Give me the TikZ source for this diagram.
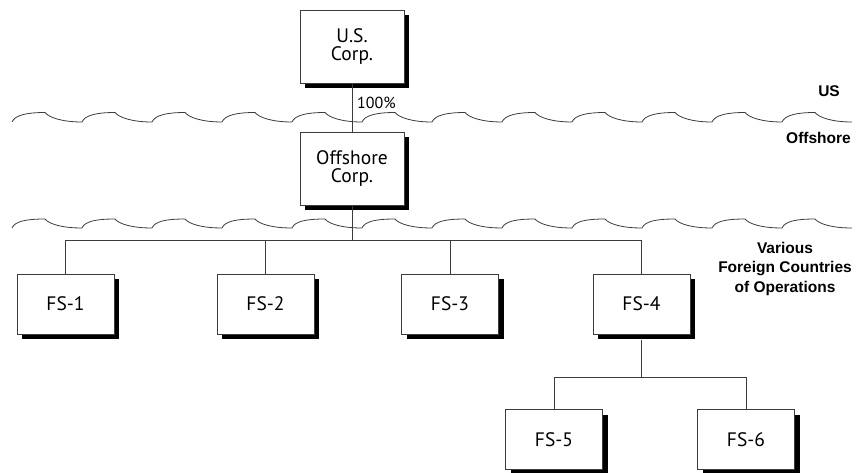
\documentclass[tikz,border=0pt]{standalone}
\usepackage{fontspec}
\setmainfont{PT Sans}
\newfontfamily\lblfont{Liberation Sans}
\usetikzlibrary{shadows}
\definecolor{linegray}{RGB}{60,60,60}
\tikzset{
  orgbox/.style={draw=linegray, fill=white, line width=1pt, inner sep=0pt,
    align=center, font=\fontsize{19.5}{18.5}\selectfont,
    drop shadow={shadow xshift=5pt, shadow yshift=-5pt, fill=black, opacity=1}},
  bigbox/.style={orgbox, minimum width=104pt, minimum height=73pt},
  fsbox/.style={orgbox, minimum width=97pt, minimum height=60pt},
  conn/.style={draw=linegray, line width=1pt},
  wave/.style={draw=linegray, line width=0.8pt},
  region/.style={font=\lblfont\bfseries\fontsize{15.5}{19.5}\selectfont, inner sep=0pt},
}
\newcommand{\wavyline}[2]{%
  \foreach \k in {0,...,11}{%
    \pgfmathsetmacro{\xa}{12+70*\k}%
    \draw[wave] (\xa,#2) .. controls (\xa+3,#2-7) and (\xa+15,#1) .. (\xa+33,#1)
      .. controls (\xa+37,#1+5) and (\xa+50,#2) .. (\xa+70,#2);
  }}
\begin{document}
\begin{tikzpicture}[x=1pt,y=-1pt]
\useasboundingbox (0,0) rectangle (859,472);
\wavyline{112.5}{122}
\wavyline{219}{228}

\node[bigbox] (us) at (352,46.5) {U.S.\\Corp.};
\node[bigbox] (off) at (352,168.5) {Offshore\\Corp.};
\node[fsbox] (fs1) at (65.5,304) {FS-1};
\node[fsbox] (fs2) at (265.5,304) {FS-2};
\node[fsbox] (fs3) at (450,304) {FS-3};
\node[fsbox] (fs4) at (641.5,304) {FS-4};
\node[fsbox] (fs5) at (554,439.5) {FS-5};
\node[fsbox] (fs6) at (746,439.5) {FS-6};

\coordinate (j1) at (352,240);
\coordinate (j2) at (641.5,377.7);

\draw[conn] (us) -- (off);
\draw[conn] (off) -- (j1);
\draw[conn] (fs1.north) |- (j1);
\draw[conn] (fs2.north) |- (j1);
\draw[conn] (fs3.north) |- (j1);
\draw[conn] (fs4.north) |- (j1);
\draw[conn] (fs4.south) ++(0,5) -- (j2);
\draw[conn] (fs5.north) |- (j2);
\draw[conn] (fs6.north) |- (j2);

\node[anchor=base west, inner sep=0pt, font=\fontsize{16}{18}\selectfont] (pct) at (357,108) {100\%};

\node[region, anchor=base east] (lus) at (840,96) {US};
\node[region, anchor=base east] (loff) at (851,143) {Offshore};
\node[region, anchor=base, align=center] (lvar) at (785,292) {Various\\Foreign Countries\\of Operations};
\end{tikzpicture}
\end{document}
